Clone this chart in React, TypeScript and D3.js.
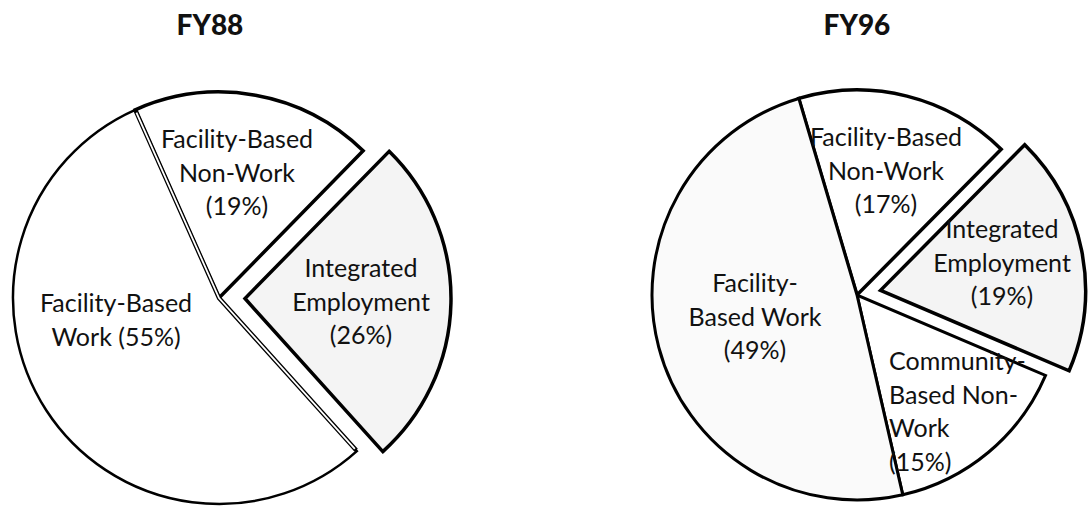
import React from "react";
import * as d3 from "d3";

// ---- data ----
const titles = ["FY88", "FY96"];
const fy88Categories = ["Facility-Based Non-Work", "Integrated Employment", "Facility-Based Work"];
const fy88Values = [19, 26, 55];
const fy88Labels = [
  ["Facility-Based", "Non-Work", "(19%)"],
  ["Integrated", "Employment", "(26%)"],
  ["Facility-Based", "Work (55%)"],
];
const fy96Categories = [
  "Facility-Based Non-Work",
  "Integrated Employment",
  "Community-Based Non-Work",
  "Facility-Based Work",
];
const fy96Values = [17, 19, 15, 49];
const fy96Labels = [
  ["Facility-Based", "Non-Work", "(17%)"],
  ["Integrated", "Employment", "(19%)"],
  ["Community-", "Based Non-", "Work", "(15%)"],
  ["Facility-", "Based Work", "(49%)"],
];

// ---- layout ----
type LabelPos = { dx: number; dy: number; anchor: string };
const charts = [
  {
    title: titles[0],
    titleX: 210,
    categories: fy88Categories,
    values: fy88Values,
    labels: fy88Labels,
    cx: 219,
    cy: 298,
    r: 206,
    startDeg: -24,
    explode: [0, 26, 0],
    fills: ["#ffffff", "#f4f4f4", "#ffffff"],
    strokeW: [3.5, 3.5, 2.5],
    doubleEdge: [false, false, true],
    labelPos: [
      { dx: 18, dy: -150, anchor: "middle" },
      { dx: 142, dy: -21, anchor: "middle" },
      { dx: -103, dy: 14, anchor: "middle" },
    ] as LabelPos[],
  },
  {
    title: titles[1],
    titleX: 857,
    categories: fy96Categories,
    values: fy96Values,
    labels: fy96Labels,
    cx: 857,
    cy: 295,
    r: 205,
    startDeg: -16.5,
    explode: [0, 24, 0, 0],
    fills: ["#ffffff", "#f4f4f4", "#ffffff", "#fafafa"],
    strokeW: [3.5, 3.5, 3, 3],
    doubleEdge: [false, false, false, false],
    labelPos: [
      { dx: 29, dy: -149, anchor: "middle" },
      { dx: 145, dy: -57, anchor: "middle" },
      { dx: 32, dy: 75, anchor: "start" },
      { dx: -102, dy: -3, anchor: "middle" },
    ] as LabelPos[],
  },
];

const LINE_H = 33.5;
const FONT = "Lato, 'Open Sans', sans-serif";

function Pie({ c }: { c: (typeof charts)[number] }) {
  const start = (c.startDeg * Math.PI) / 180;
  const pie = d3
    .pie<number>()
    .sort(null)
    .value((d) => d)
    .startAngle(start)
    .endAngle(start + 2 * Math.PI);
  const arcs = pie(c.values);
  const arc = d3.arc<d3.PieArcDatum<number>>().innerRadius(0).outerRadius(c.r);
  const pt = (a: number, rr: number) => [rr * Math.sin(a), -rr * Math.cos(a)];

  const order = arcs.map((_, i) => i).sort((a, b) => Number(c.doubleEdge[a]) - Number(c.doubleEdge[b]));

  return (
    <g>
      <text
        x={c.titleX}
        y={35}
        textAnchor="middle"
        fontFamily={FONT}
        fontWeight={900}
        fontSize={28}
        fill="#111"
      >
        {c.title}
      </text>
      <g transform={`translate(${c.cx},${c.cy})`}>
        {order.map((i) => {
          const a = arcs[i];
          const mid = (a.startAngle + a.endAngle) / 2;
          const off = c.explode[i];
          const [ox, oy] = pt(mid, off);
          return (
            <g key={c.categories[i]} transform={`translate(${ox},${oy})`}>
              <path
                d={arc(a) || ""}
                fill={c.fills[i]}
                stroke="#000"
                strokeWidth={c.strokeW[i]}
                strokeLinejoin="miter"
              />
              {c.doubleEdge[i] && (
                <g>
                  <path
                    d={`M${pt(a.startAngle, c.r - 1).join(",")}L0,0L${pt(a.endAngle, c.r - 1).join(",")}`}
                    fill="none"
                    stroke="#000"
                    strokeWidth={4.4}
                  />
                  <path
                    d={`M${pt(a.startAngle, c.r - 3).join(",")}L0,0L${pt(a.endAngle, c.r - 3).join(",")}`}
                    fill="none"
                    stroke="#fff"
                    strokeWidth={1.8}
                  />
                </g>
              )}
            </g>
          );
        })}
        {arcs.map((a, i) => {
          const lp = c.labelPos[i];
          return (
            <text
              key={"l" + i}
              x={lp.dx}
              y={lp.dy}
              textAnchor={lp.anchor as any}
              fontFamily={FONT}
              fontSize={25}
              fill="#111"
            >
              {c.labels[i].map((line, j) => (
                <tspan key={j} x={lp.dx} y={lp.dy + j * LINE_H}>
                  {line}
                </tspan>
              ))}
            </text>
          );
        })}
      </g>
    </g>
  );
}

export default function App() {
  return (
    <svg
      width={1090}
      height={513}
      style={{ position: "absolute", left: 0, top: 0, background: "#fff" }}
    >
      <rect width={1090} height={513} fill="#fff" />
      {charts.map((c) => (
        <Pie key={c.title} c={c} />
      ))}
    </svg>
  );
}
